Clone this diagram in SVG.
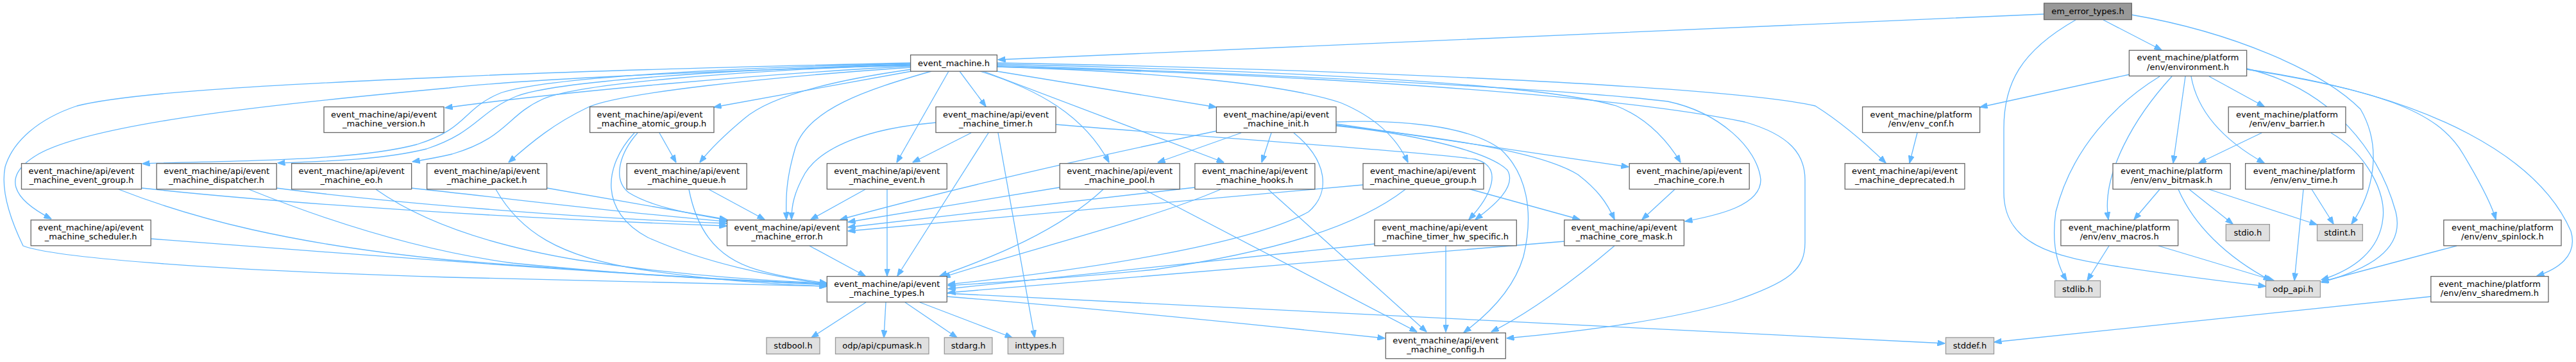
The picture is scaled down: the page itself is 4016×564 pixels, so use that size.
<svg xmlns="http://www.w3.org/2000/svg" width="4016" height="564" viewBox="0 0 4016 564">
<style>
rect{fill:#ffffff;stroke:#666666;stroke-width:1.3}
rect.hl{fill:#999999;stroke:#666666}
rect.sys{fill:#e0e0e0;stroke:#999999}
text{font-family:"DejaVu Sans","Liberation Sans",sans-serif;font-size:13px;fill:#000000;text-anchor:middle}
text.l{text-anchor:start}
#edges path{fill:none;stroke:#63b8ff;stroke-width:1.3;marker-end:url(#ah)}
</style>
<defs>
<marker id="ah" markerWidth="12" markerHeight="9" refX="11.5" refY="4.5" orient="auto" markerUnits="userSpaceOnUse"><path d="M0,0 L12,4.5 L0,9 z" fill="#63b8ff" stroke="#63b8ff" stroke-width="1"/></marker>
</defs>
<rect x="0" y="0" width="4016" height="564" style="fill:#ffffff;stroke:none"/>
<g id="edges">
<!-- em_error_types.h -->
<path d="M3186,22 C2700,42 2100,70 1556,93"/>
<path d="M3279,31 L3370,78"/>
<path d="M3323,23 C3480,50 3620,110 3680,170 C3715,230 3700,300 3666,349"/>
<path d="M3236,31 C3150,80 3124,130 3124,200 L3124,300 C3124,380 3200,400 3300,415 C3400,430 3480,440 3532,446"/>
<!-- environment.h -->
<path d="M3320,116 L3087,167"/>
<path d="M3367,119 C3300,160 3230,230 3205,330 C3198,380 3208,415 3222,437"/>
<path d="M3386,119 C3330,180 3275,270 3287,342"/>
<path d="M3407,119 L3388,254"/>
<path d="M3416,119 C3425,170 3460,215 3530,254"/>
<path d="M3444,119 L3530,166"/>
<path d="M3503,107 C3640,140 3710,240 3735,330 C3750,390 3690,420 3619,440"/>
<path d="M3503,108 C3700,140 3800,170 3840,240 C3870,290 3885,320 3891,342"/>
<path d="M3503,108 C3800,150 3960,250 4008,360 C4020,400 3985,420 3955,430"/>
<!-- env_barrier.h -->
<path d="M3526,207 L3428,254"/>
<path d="M3634,207 C3690,240 3720,300 3715,340 C3710,390 3670,420 3619,436"/>
<!-- env_bitmask.h -->
<path d="M3367,295 L3327,342"/>
<path d="M3413,295 L3481,349"/>
<path d="M3444,295 L3612,350"/>
<path d="M3396,295 C3420,350 3470,400 3540,437"/>
<!-- env_time.h -->
<path d="M3604,295 L3638,349"/>
<path d="M3591,295 L3577,437"/>
<!-- env_macros.h -->
<path d="M3288,383 L3254,437"/>
<path d="M3365,383 L3545,437"/>
<!-- env_spinlock.h / env_sharedmem.h / env_conf.h -->
<path d="M3830,383 L3619,439"/>
<path d="M3790,462 L3109,533"/>
<path d="M2989,207 L2977,254"/>
<!-- event_machine.h -->
<path d="M1420,103 C1200,115 900,140 694,168"/>
<path d="M1420,99 C1150,105 850,120 780,145 C720,170 730,200 650,225 C550,252 350,250 222,255"/>
<path d="M1420,100 C1150,108 870,125 805,150 C745,175 745,205 665,232 C600,248 520,251 433,254"/>
<path d="M1420,101 C1150,110 900,130 845,155 C790,180 790,215 705,240 C680,246 660,249 643,252"/>
<path d="M1420,105 C1200,120 960,145 915,168 C865,192 830,220 793,253"/>
<path d="M1420,102 C1100,110 800,125 700,137 C450,160 150,190 60,240 C0,275 20,310 80,341"/>
<path d="M1420,98 C1100,105 850,113 700,120 C400,133 200,145 120,165 C60,185 20,220 8,260 C0,300 20,350 36,383 C80,400 300,420 700,432 C1000,440 1200,443 1289,446"/>
<path d="M1421,111 L1113,167"/>
<path d="M1421,108 C1300,125 1200,150 1160,185 C1130,210 1105,235 1091,253"/>
<path d="M1452,111 C1350,140 1260,170 1240,230 C1225,280 1225,310 1226,342"/>
<path d="M1479,111 L1398,253"/>
<path d="M1496,111 L1537,166"/>
<path d="M1528,111 C1620,140 1690,180 1729,253"/>
<path d="M1533,111 L1908,253"/>
<path d="M1554,111 L1896,167"/>
<path d="M1554,104 C1800,112 2000,130 2090,160 C2150,185 2180,220 2195,253"/>
<path d="M1554,100 C2000,110 2400,130 2520,165 C2570,185 2600,220 2620,253"/>
<path d="M1554,102 C2000,115 2450,140 2600,158 C2680,175 2740,230 2745,280 C2745,320 2680,335 2627,345"/>
<path d="M1554,98 C2100,108 2700,135 2830,165 C2870,190 2910,225 2940,254"/>
<path d="M1554,104 C2000,115 2500,145 2720,190 C2790,210 2814,240 2814,280 L2814,378 C2814,420 2790,440 2700,470 C2600,500 2450,518 2349,527"/>
<!-- event_machine_timer.h -->
<path d="M1459,191 C1350,200 1280,230 1255,270 C1238,300 1234,320 1234,342"/>
<path d="M1514,207 L1423,253"/>
<path d="M1541,207 L1399,430"/>
<path d="M1556,207 L1613,526"/>
<path d="M1646,194 C1900,215 2200,235 2300,248 C2345,260 2325,305 2290,342"/>
<!-- event_machine_init.h -->
<path d="M1935,207 L1805,253"/>
<path d="M1982,207 L1967,253"/>
<path d="M1897,204 C1700,245 1500,290 1310,342"/>
<path d="M2017,207 C2070,250 2075,300 2040,330 C1950,380 1700,420 1478,443"/>
<path d="M2083,193 L2539,260"/>
<path d="M2083,195 C2250,215 2400,235 2460,272 C2490,295 2505,315 2517,342"/>
<path d="M2083,196 C2200,208 2320,235 2350,265 C2365,290 2330,320 2300,342"/>
<path d="M2083,190 C2180,186 2290,195 2340,233 C2380,270 2392,330 2375,400 C2360,450 2320,490 2282,518"/>
<!-- event.h -->
<path d="M1349,295 L1264,342"/>
<path d="M1383,295 L1383,430"/>
<!-- pool.h -->
<path d="M1652,292 L1322,346"/>
<path d="M1720,295 C1650,360 1550,400 1465,430"/>
<path d="M1783,295 L2209,517"/>
<!-- hooks.h -->
<path d="M1863,292 L1322,354"/>
<path d="M1903,295 C1800,340 1600,390 1470,432"/>
<path d="M1977,295 L2224,517"/>
<!-- queue_group.h -->
<path d="M2125,288 L1322,360"/>
<path d="M2191,295 C2120,350 2000,390 1800,420 C1650,435 1550,440 1478,445"/>
<path d="M2289,294 L2463,342"/>
<!-- core.h -->
<path d="M2611,295 L2560,342"/>
<!-- timer_hw_specific.h -->
<path d="M2143,380 L1478,450"/>
<path d="M2254,383 L2254,517"/>
<!-- core_mask.h -->
<path d="M2439,376 L1478,456"/>
<path d="M2517,383 C2450,440 2380,490 2325,517"/>
<!-- error.h -->
<path d="M1262,383 L1349,430"/>
<!-- atomic_group.h -->
<path d="M1028,207 L1054,253"/>
<path d="M994,207 C965,240 955,280 980,300 C1020,325 1090,335 1133,343"/>
<path d="M989,207 C940,260 935,330 1010,370 C1100,410 1200,430 1289,443"/>
<!-- queue.h -->
<path d="M1105,295 L1192,342"/>
<path d="M1074,295 C1085,350 1110,400 1180,420 C1220,432 1260,437 1289,441"/>
<!-- packet.h -->
<path d="M853,293 L1133,342"/>
<path d="M773,295 C810,360 870,400 1000,420 C1100,435 1200,443 1289,446"/>
<!-- event_group.h -->
<path d="M221,293 C450,318 800,340 1133,352"/>
<path d="M185,295 C300,340 450,380 700,405 C950,425 1150,437 1289,442"/>
<!-- dispatcher.h -->
<path d="M431,293 C600,315 900,340 1133,348"/>
<path d="M388,295 C500,340 650,390 800,410 C1000,430 1150,438 1289,443"/>
<!-- eo.h -->
<path d="M641,293 C800,310 1000,335 1133,345"/>
<path d="M586,295 C650,340 750,380 900,405 C1050,428 1180,437 1289,441"/>
<!-- scheduler.h -->
<path d="M235,372 C600,400 1000,430 1289,444"/>
<!-- types.h -->
<path d="M1350,471 L1265,526"/>
<path d="M1381,471 L1378,526"/>
<path d="M1411,471 L1492,526"/>
<path d="M1434,471 L1578,526"/>
<path d="M1476,462 C1700,480 1950,505 2159,527"/>
<path d="M1476,457 L3032,535"/>
</g>
<g id="n_em_error_types"><rect class="hl" x="3186.6" y="5" width="136.7" height="25.6"/><text x="3255" y="22.3">em_error_types.h</text></g>
<g id="n_event_machine"><rect x="1419.6" y="85.6" width="134.8" height="25.5"/><text x="1487" y="102.8">event_machine.h</text></g>
<g id="n_environment"><rect x="3319.4" y="78.4" width="183.2" height="40"/><text x="3411" y="94.4">event_machine/platform</text><text x="3411" y="108.9">/env/environment.h</text></g>
<g id="n_version"><rect x="505" y="166.5" width="187" height="40"/><text x="598.5" y="182.5">event_machine/api/event</text><text x="598.5" y="197">_machine_version.h</text></g>
<g id="n_atomic_group"><rect x="919.6" y="166.5" width="193.4" height="40"/><text class="l" x="930.6" y="182.5">event_machine/api/event</text><text x="1016.3" y="197">_machine_atomic_group.h</text></g>
<g id="n_timer"><rect x="1459" y="166.5" width="187" height="40"/><text x="1552.5" y="182.5">event_machine/api/event</text><text x="1552.5" y="197">_machine_timer.h</text></g>
<g id="n_init"><rect x="1896.4" y="166.5" width="186.6" height="40"/><text x="1989.7" y="182.5">event_machine/api/event</text><text x="1989.7" y="197">_machine_init.h</text></g>
<g id="n_env_conf"><rect x="2903.6" y="166.5" width="183" height="40"/><text x="2995.1" y="182.5">event_machine/platform</text><text x="2995.1" y="197">/env/env_conf.h</text></g>
<g id="n_env_barrier"><rect x="3474.2" y="166.5" width="182.7" height="40"/><text x="3565.5" y="182.5">event_machine/platform</text><text x="3565.5" y="197">/env/env_barrier.h</text></g>
<g id="n_event_group"><rect x="33.5" y="254.7" width="187" height="40"/><text x="127" y="270.7">event_machine/api/event</text><text x="127" y="285.2">_machine_event_group.h</text></g>
<g id="n_dispatcher"><rect x="244.2" y="254.7" width="187" height="40"/><text x="337.7" y="270.7">event_machine/api/event</text><text x="337.7" y="285.2">_machine_dispatcher.h</text></g>
<g id="n_eo"><rect x="454.6" y="254.7" width="187" height="40"/><text x="548.1" y="270.7">event_machine/api/event</text><text x="548.1" y="285.2">_machine_eo.h</text></g>
<g id="n_packet"><rect x="665.6" y="254.7" width="187" height="40"/><text x="759.1" y="270.7">event_machine/api/event</text><text x="759.1" y="285.2">_machine_packet.h</text></g>
<g id="n_queue"><rect x="977.2" y="254.7" width="187" height="40"/><text x="1070.7" y="270.7">event_machine/api/event</text><text x="1070.7" y="285.2">_machine_queue.h</text></g>
<g id="n_event"><rect x="1289.3" y="254.7" width="187" height="40"/><text x="1382.8" y="270.7">event_machine/api/event</text><text x="1382.8" y="285.2">_machine_event.h</text></g>
<g id="n_pool"><rect x="1652.2" y="254.7" width="187" height="40"/><text x="1745.7" y="270.7">event_machine/api/event</text><text x="1745.7" y="285.2">_machine_pool.h</text></g>
<g id="n_hooks"><rect x="1862.9" y="254.7" width="187" height="40"/><text x="1956.4" y="270.7">event_machine/api/event</text><text x="1956.4" y="285.2">_machine_hooks.h</text></g>
<g id="n_queue_group"><rect x="2125" y="254.7" width="188" height="40"/><text class="l" x="2136" y="270.7">event_machine/api/event</text><text x="2219" y="285.2">_machine_queue_group.h</text></g>
<g id="n_core"><rect x="2540.2" y="254.7" width="187" height="40"/><text x="2633.7" y="270.7">event_machine/api/event</text><text x="2633.7" y="285.2">_machine_core.h</text></g>
<g id="n_deprecated"><rect x="2876.3" y="254.7" width="186.7" height="40"/><text x="2969.6" y="270.7">event_machine/api/event</text><text x="2969.6" y="285.2">_machine_deprecated.h</text></g>
<g id="n_env_bitmask"><rect x="3294" y="254.7" width="183.2" height="40"/><text x="3385.6" y="270.7">event_machine/platform</text><text x="3385.6" y="285.2">/env/env_bitmask.h</text></g>
<g id="n_env_time"><rect x="3500.6" y="254.7" width="183.2" height="40"/><text x="3592.2" y="270.7">event_machine/platform</text><text x="3592.2" y="285.2">/env/env_time.h</text></g>
<g id="n_scheduler"><rect x="48.2" y="342.8" width="187" height="40"/><text x="141.7" y="358.8">event_machine/api/event</text><text x="141.7" y="373.3">_machine_scheduler.h</text></g>
<g id="n_error"><rect x="1133.5" y="342.8" width="187" height="40"/><text x="1227" y="358.8">event_machine/api/event</text><text x="1227" y="373.3">_machine_error.h</text></g>
<g id="n_timer_hw_specific"><rect x="2143" y="342.8" width="221.3" height="40"/><text class="l" x="2154.3" y="358.8">event_machine/api/event</text><text x="2253.6" y="373.3">_machine_timer_hw_specific.h</text></g>
<g id="n_core_mask"><rect x="2438.8" y="342.8" width="186.6" height="40"/><text x="2532.1" y="358.8">event_machine/api/event</text><text x="2532.1" y="373.3">_machine_core_mask.h</text></g>
<g id="n_env_macros"><rect x="3212.9" y="342.8" width="182.7" height="40"/><text x="3304.2" y="358.8">event_machine/platform</text><text x="3304.2" y="373.3">/env/env_macros.h</text></g>
<g id="n_stdio"><rect class="sys" x="3470.3" y="349.6" width="68" height="25.6"/><text x="3504.3" y="366.9">stdio.h</text></g>
<g id="n_stdint"><rect class="sys" x="3612.5" y="349.6" width="70.8" height="25.6"/><text x="3647.9" y="366.9">stdint.h</text></g>
<g id="n_env_spinlock"><rect x="3809.8" y="342.8" width="183.2" height="40"/><text x="3901.4" y="358.8">event_machine/platform</text><text x="3901.4" y="373.3">/env/env_spinlock.h</text></g>
<g id="n_types"><rect x="1289.3" y="430.6" width="187" height="40"/><text x="1382.8" y="446.6">event_machine/api/event</text><text x="1382.8" y="461.1">_machine_types.h</text></g>
<g id="n_stdlib"><rect class="sys" x="3203.5" y="437.4" width="71" height="25.6"/><text x="3239" y="454.7">stdlib.h</text></g>
<g id="n_odp_api"><rect class="sys" x="3532.4" y="437.4" width="85" height="25.6"/><text x="3574.9" y="454.7">odp_api.h</text></g>
<g id="n_env_sharedmem"><rect x="3789.8" y="430.6" width="183.2" height="40"/><text x="3881.4" y="446.6">event_machine/platform</text><text x="3881.4" y="461.1">/env/env_sharedmem.h</text></g>
<g id="n_config"><rect x="2160.3" y="518.7" width="187" height="40"/><text x="2253.8" y="534.7">event_machine/api/event</text><text x="2253.8" y="549.2">_machine_config.h</text></g>
<g id="n_stdbool"><rect class="sys" x="1195" y="525.9" width="83" height="25.6"/><text x="1236.5" y="543.2">stdbool.h</text></g>
<g id="n_cpumask"><rect class="sys" x="1302.5" y="525.9" width="145.5" height="25.6"/><text x="1375.2" y="543.2">odp/api/cpumask.h</text></g>
<g id="n_stdarg"><rect class="sys" x="1472.3" y="525.9" width="74.6" height="25.6"/><text x="1509.6" y="543.2">stdarg.h</text></g>
<g id="n_inttypes"><rect class="sys" x="1571.4" y="525.9" width="86.6" height="25.6"/><text x="1614.7" y="543.2">inttypes.h</text></g>
<g id="n_stddef"><rect class="sys" x="3033.5" y="525.9" width="75" height="25.6"/><text x="3071" y="543.2">stddef.h</text></g>
</svg>
